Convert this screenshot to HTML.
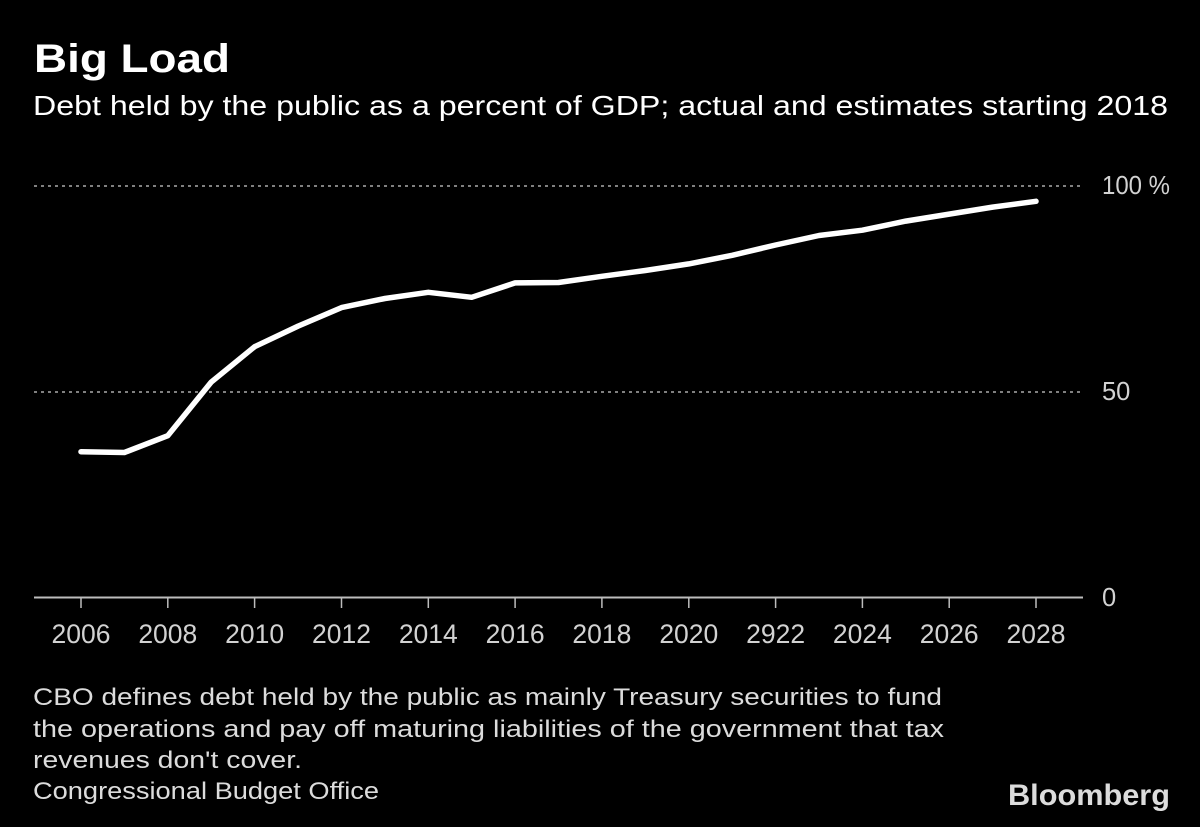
<!DOCTYPE html>
<html>
<head>
<meta charset="utf-8">
<style>
html,body{margin:0;padding:0;background:#000;}
svg{display:block;}
text{font-family:"Liberation Sans",sans-serif;}
</style>
</head>
<body>
<svg width="1200" height="827" viewBox="0 0 1200 827" xmlns="http://www.w3.org/2000/svg">
<rect width="1200" height="827" fill="#000"/>
<text x="34" y="72" font-size="40" font-weight="bold" fill="#fff" textLength="196" lengthAdjust="spacingAndGlyphs">Big Load</text>
<text x="33" y="115" font-size="27.5" fill="#fff" textLength="1135" lengthAdjust="spacingAndGlyphs">Debt held by the public as a percent of GDP; actual and estimates starting 2018</text>

<!-- gridlines -->
<line x1="34" y1="186" x2="1084" y2="186" stroke="#808080" stroke-width="2" stroke-dasharray="3 4"/>
<line x1="34" y1="392" x2="1084" y2="392" stroke="#808080" stroke-width="2" stroke-dasharray="3 4"/>
<!-- axis -->
<line x1="34" y1="597.5" x2="1083" y2="597.5" stroke="#bdbdbd" stroke-width="2"/>
<g stroke="#bdbdbd" stroke-width="1.5">
<line x1="81" y1="598" x2="81" y2="608"/>
<line x1="167.8" y1="598" x2="167.8" y2="608"/>
<line x1="254.6" y1="598" x2="254.6" y2="608"/>
<line x1="341.5" y1="598" x2="341.5" y2="608"/>
<line x1="428.3" y1="598" x2="428.3" y2="608"/>
<line x1="515.1" y1="598" x2="515.1" y2="608"/>
<line x1="601.9" y1="598" x2="601.9" y2="608"/>
<line x1="688.8" y1="598" x2="688.8" y2="608"/>
<line x1="775.6" y1="598" x2="775.6" y2="608"/>
<line x1="862.4" y1="598" x2="862.4" y2="608"/>
<line x1="949.2" y1="598" x2="949.2" y2="608"/>
<line x1="1036" y1="598" x2="1036" y2="608"/>
</g>
<g font-size="26.5" fill="#d2d2d2" text-anchor="middle">
<text x="81" y="643">2006</text>
<text x="167.8" y="643">2008</text>
<text x="254.6" y="643">2010</text>
<text x="341.5" y="643">2012</text>
<text x="428.3" y="643">2014</text>
<text x="515.1" y="643">2016</text>
<text x="601.9" y="643">2018</text>
<text x="688.8" y="643">2020</text>
<text x="775.6" y="643">2922</text>
<text x="862.4" y="643">2024</text>
<text x="949.2" y="643">2026</text>
<text x="1036" y="643">2028</text>
</g>
<g font-size="25.5" fill="#d2d2d2">
<text x="1102" y="194" textLength="68" lengthAdjust="spacingAndGlyphs">100 %</text>
<text x="1102" y="400">50</text>
<text x="1102" y="606">0</text>
</g>

<polyline fill="none" stroke="#fff" stroke-width="5.5" stroke-linejoin="round" stroke-linecap="round"
points="81,451.7 124.4,452.5 167.8,435.7 211.2,382.1 254.6,346.7 298.1,326.1 341.5,307.6 384.9,298.5 428.3,292.3 471.7,297.3 515.1,282.9 558.5,282.5 601.9,276.3 645.3,270.5 688.8,263.9 732.2,255.3 775.6,245 819,235.5 862.4,230.2 905.8,221.1 949.2,214.1 992.6,207.1 1036,201.3"/>

<g font-size="24" fill="#dcdcdc">
<text x="33" y="705" textLength="909" lengthAdjust="spacingAndGlyphs">CBO defines debt held by the public as mainly Treasury securities to fund</text>
<text x="33" y="737" textLength="911" lengthAdjust="spacingAndGlyphs">the operations and pay off maturing liabilities of the government that tax</text>
<text x="33" y="768" textLength="269" lengthAdjust="spacingAndGlyphs">revenues don't cover.</text>
<text x="33" y="799" textLength="346" lengthAdjust="spacingAndGlyphs">Congressional Budget Office</text>
</g>
<text x="1008" y="805" font-size="30" font-weight="bold" fill="#dcdcdc" textLength="162" lengthAdjust="spacingAndGlyphs">Bloomberg</text>
</svg>
</body>
</html>
